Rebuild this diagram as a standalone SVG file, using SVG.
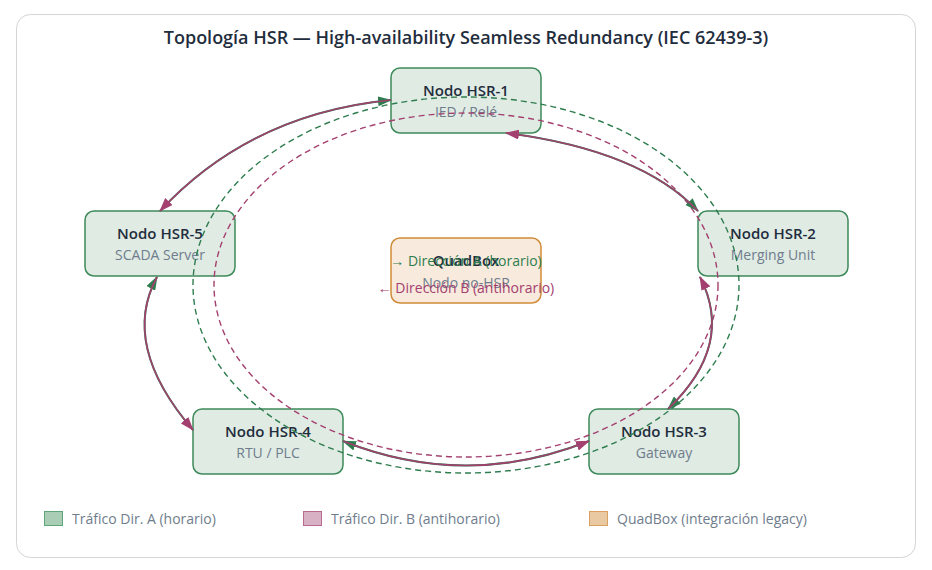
<svg xmlns="http://www.w3.org/2000/svg" width="932" height="570" viewBox="0 0 932 570">
<defs>
<style>
.card{fill:#ffffff;stroke:#d4d4d4;stroke-width:1}
.title{font-family:"Open Sans","Noto Sans","Liberation Sans",sans-serif;font-size:18px;font-weight:600;fill:#1f2d3d;text-anchor:middle}
.node rect{fill:#e0ebe4;stroke:#3d8a5a;stroke-width:1.5}
.qb rect{fill:#f8eadd;stroke:#d08c3a;stroke-width:1.5}
.nt{font-family:"Open Sans","Noto Sans","Liberation Sans",sans-serif;font-size:15px;font-weight:600;fill:#1f2d3d;text-anchor:middle}
.ns{font-family:"Open Sans","Noto Sans","Liberation Sans",sans-serif;font-size:14px;fill:#6f7d8c;text-anchor:middle}
.lg{font-family:"Open Sans","Noto Sans","Liberation Sans",sans-serif;font-size:14px;fill:#6f7d8c}
.da{fill:none;stroke:#2f7d4f;stroke-width:1.4;stroke-dasharray:6 4}
.db{fill:none;stroke:#a3406f;stroke-width:1.4;stroke-dasharray:6 4}
.la{fill:none;stroke:#2f7d4f;stroke-width:2;marker-end:url(#ma)}
.lb{fill:none;stroke:#a3406f;stroke-width:1.6;marker-end:url(#mb)}
.ta{font-family:"Open Sans","Noto Sans","Liberation Sans",sans-serif;font-size:14px;fill:#2f7d4f;text-anchor:middle}
.tb{font-family:"Open Sans","Noto Sans","Liberation Sans",sans-serif;font-size:14px;fill:#a3406f;text-anchor:middle}
</style>
<marker id="ma" viewBox="0 0 14 10" refX="13" refY="5" markerWidth="14" markerHeight="10" markerUnits="userSpaceOnUse" orient="auto"><path d="M0,0 L14,5 L0,10 z" fill="#2f7d4f"/></marker>
<marker id="mb" viewBox="0 0 14 10" refX="13" refY="5" markerWidth="14" markerHeight="10" markerUnits="userSpaceOnUse" orient="auto"><path d="M0,0 L14,5 L0,10 z" fill="#a3406f"/></marker>
</defs>
<rect class="card" x="16.5" y="14.5" width="899" height="543" rx="14"/>
<text class="title" x="466" y="44">Topología HSR — High-availability Seamless Redundancy (IEC 62439-3)</text>

<g id="node-hsr1" class="node"><rect x="391" y="68" width="150" height="65" rx="9"/><text class="nt" x="466" y="96">Nodo HSR-1</text><text class="ns" x="466" y="117">IED / Relé</text></g>
<g id="node-hsr2" class="node"><rect x="698" y="211" width="150" height="65" rx="9"/><text class="nt" x="773" y="239">Nodo HSR-2</text><text class="ns" x="773" y="260">Merging Unit</text></g>
<g id="node-hsr3" class="node"><rect x="589" y="409" width="150" height="65" rx="9"/><text class="nt" x="664" y="437">Nodo HSR-3</text><text class="ns" x="664" y="458">Gateway</text></g>
<g id="node-hsr4" class="node"><rect x="193" y="409" width="150" height="65" rx="9"/><text class="nt" x="268" y="437">Nodo HSR-4</text><text class="ns" x="268" y="458">RTU / PLC</text></g>
<g id="node-hsr5" class="node"><rect x="85" y="211" width="150" height="65" rx="9"/><text class="nt" x="160" y="239">Nodo HSR-5</text><text class="ns" x="160" y="260">SCADA Server</text></g>
<g id="node-quadbox" class="qb"><rect x="391" y="238" width="150" height="65" rx="9"/><text class="nt" x="466" y="266">QuadBox</text><text class="ns" x="466" y="288">Nodo no-HSR</text></g>

<g id="connectors">
<ellipse class="da" cx="466" cy="285" rx="273" ry="188"/>
<ellipse class="db" cx="466" cy="285" rx="252" ry="172"/>
<path class="la" d="M160,211 Q250,114 391,100"/>
<path class="lb" d="M391,100 Q250,114 160,211"/>
<path class="la" d="M506,133 Q640,150 698,211"/>
<path class="lb" d="M698,211 Q640,150 506,133"/>
<path class="la" d="M700,277 Q735,345 668,409"/>
<path class="lb" d="M668,409 Q735,345 700,277"/>
<path class="la" d="M589,441 Q466,490 343,441"/>
<path class="lb" d="M343,441 Q466,490 589,441"/>
<path class="la" d="M193,430 Q120,345 157,277"/>
<path class="lb" d="M157,277 Q120,345 193,430"/>
</g>

<g id="direction-labels">
<text class="ta" x="466" y="266">→ Dirección A (horario)</text>
<text class="tb" x="466" y="293">← Dirección B (antihorario)</text>
</g>

<g id="legend">
<rect x="44.5" y="511.5" width="18" height="14" fill="#a9cdb5" stroke="#5fa57a"/>
<text class="lg" x="72" y="524">Tráfico Dir. A (horario)</text>
<rect x="303.5" y="511.5" width="18" height="14" fill="#d9b1c5" stroke="#b86a90"/>
<text class="lg" x="331" y="524">Tráfico Dir. B (antihorario)</text>
<rect x="589.5" y="511.5" width="18" height="14" fill="#e8c9a2" stroke="#d9a060"/>
<text class="lg" x="617" y="524">QuadBox (integración legacy)</text>
</g>
</svg>
